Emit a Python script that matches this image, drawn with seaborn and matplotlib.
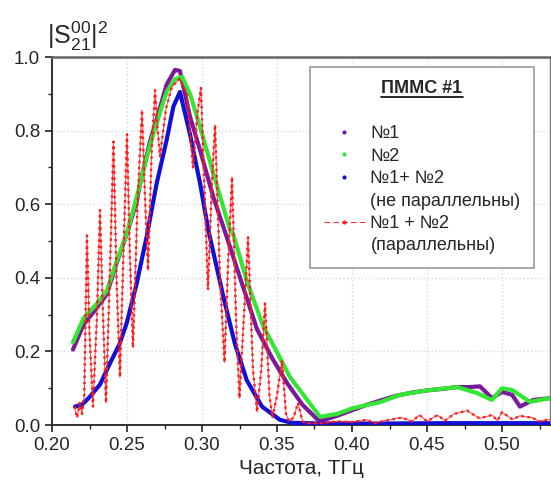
import numpy as np
import pandas as pd
import matplotlib
matplotlib.use("Agg")
import matplotlib.pyplot as plt
from matplotlib.lines import Line2D
from matplotlib.ticker import MultipleLocator
import seaborn as sns

# ---------------- data ----------------
x_n1 = [0.214, 0.2209, 0.2298, 0.2365, 0.2431, 0.2498, 0.2565, 0.2587, 0.2653, 0.272, 0.2764,
        0.282, 0.2853, 0.292, 0.2987, 0.3075, 0.3164, 0.327, 0.3367, 0.347, 0.3567, 0.367,
        0.3767, 0.38, 0.39, 0.40, 0.41, 0.42, 0.43, 0.44, 0.45, 0.46, 0.47, 0.478, 0.4853,
        0.4933, 0.50, 0.5067, 0.512, 0.5207, 0.532]
y_n1 = [0.205, 0.272, 0.318, 0.355, 0.44, 0.518, 0.608, 0.655, 0.77, 0.862, 0.925,
        0.965, 0.962, 0.838, 0.747, 0.62, 0.512, 0.38, 0.26, 0.18, 0.114, 0.055,
        0.016, 0.012, 0.025, 0.04, 0.055, 0.068, 0.08, 0.088, 0.094, 0.098, 0.103, 0.103, 0.105,
        0.073, 0.09, 0.082, 0.05, 0.068, 0.073]

x_n2 = [0.214, 0.221, 0.23, 0.2365, 0.2431, 0.2498, 0.2565, 0.2653, 0.272, 0.2764, 0.282,
        0.2867, 0.292, 0.2987, 0.3075, 0.3187, 0.3207, 0.33, 0.3407, 0.3587, 0.3787, 0.39,
        0.4007, 0.4187, 0.432, 0.45, 0.47, 0.4833, 0.4933, 0.50, 0.5067, 0.5187, 0.532]
y_n2 = [0.225, 0.29, 0.33, 0.365, 0.445, 0.52, 0.62, 0.76, 0.85, 0.905, 0.94,
        0.946, 0.9, 0.81, 0.685, 0.53, 0.52, 0.39, 0.27, 0.13, 0.022, 0.03,
        0.046, 0.062, 0.082, 0.094, 0.103, 0.087, 0.068, 0.10, 0.095, 0.063, 0.073]

x_np = [0.2153, 0.22, 0.2253, 0.232, 0.2387, 0.245, 0.2498, 0.2565, 0.2631, 0.2698, 0.2764,
        0.2809, 0.2853, 0.292, 0.2987, 0.3042, 0.3142, 0.322, 0.3298, 0.34, 0.352, 0.36,
        0.38, 0.42, 0.46, 0.50, 0.532]
y_np = [0.05, 0.055, 0.077, 0.11, 0.168, 0.22, 0.277, 0.385, 0.512, 0.657, 0.774,
        0.865, 0.905, 0.79, 0.657, 0.53, 0.349, 0.22, 0.122, 0.05, 0.014, 0.006,
        0.004, 0.004, 0.005, 0.005, 0.005]

x_par = [0.2150, 0.2167, 0.2185, 0.2200, 0.2215, 0.2233, 0.2250, 0.2273, 0.2300, 0.2320,
         0.2340, 0.2360, 0.2385, 0.2410, 0.2430, 0.2453, 0.2475, 0.2500, 0.2520, 0.2540,
         0.2570, 0.2600, 0.2620, 0.2640, 0.2665, 0.2687, 0.2705, 0.2720, 0.2760, 0.2800,
         0.2850, 0.2900, 0.2940, 0.2970, 0.2993, 0.3020, 0.3040, 0.3065, 0.3087, 0.3120,
         0.3150, 0.3175, 0.3200, 0.3230, 0.3250, 0.3280, 0.3307, 0.3340, 0.3367, 0.3395,
         0.3420, 0.3450, 0.3470, 0.3500, 0.3533, 0.3560, 0.3580, 0.3610, 0.3640, 0.3670,
         0.3700, 0.380, 0.390, 0.400, 0.410, 0.415, 0.420, 0.433, 0.440, 0.445, 0.450,
         0.457, 0.462, 0.468, 0.4767, 0.485, 0.4933, 0.497, 0.500, 0.507, 0.512, 0.520,
         0.525, 0.532]
y_par = [0.05, 0.02, 0.06, 0.03, 0.08, 0.515, 0.25, 0.05, 0.30, 0.584,
         0.30, 0.06, 0.40, 0.77, 0.40, 0.13, 0.45, 0.79, 0.45, 0.21,
         0.60, 0.856, 0.62, 0.42, 0.75, 0.91, 0.80, 0.73, 0.86, 0.92,
         0.94, 0.90, 0.70, 0.85, 0.916, 0.60, 0.367, 0.65, 0.815, 0.40,
         0.17, 0.45, 0.674, 0.25, 0.073, 0.30, 0.51, 0.15, 0.035, 0.15,
         0.33, 0.08, 0.02, 0.08, 0.176, 0.03, 0.01, 0.02, 0.06, 0.01,
         0.005, 0.005, 0.01, 0.008, 0.014, 0.005, 0.01, 0.02, 0.01, 0.027, 0.01,
         0.027, 0.012, 0.03, 0.039, 0.018, 0.027, 0.012, 0.035, 0.015, 0.025, 0.02,
         0.01, 0.015]

series_labels = ["№1", "№2", "№1+ №2", "№1 + №2"]
x_ticks = [0.20, 0.25, 0.30, 0.35, 0.40, 0.45, 0.50]
y_ticks = [0.0, 0.2, 0.4, 0.6, 0.8, 1.0]

# ---------------- style ----------------
sns.set_theme(style="ticks")
plt.rcParams["font.family"] = ["Liberation Sans", "DejaVu Sans"]
plt.rcParams["mathtext.fontset"] = "custom"
plt.rcParams["mathtext.rm"] = "Liberation Sans"
plt.rcParams["mathtext.it"] = "Liberation Sans"

fig = plt.figure(figsize=(5.51, 4.91), dpi=100)
ax = fig.add_axes([52 / 551, 1 - 425 / 491, 498 / 551, 368 / 491])

c_purple = "#7a1a9a"
c_green = "#33e633"
c_blue = "#1010d8"
c_red = "#ff1a1a"

df1 = pd.DataFrame({"x": x_n1, "y": y_n1})
df2 = pd.DataFrame({"x": x_n2, "y": y_n2})
df3 = pd.DataFrame({"x": x_np, "y": y_np})
df4 = pd.DataFrame({"x": x_par, "y": y_par})

sns.lineplot(data=df1, x="x", y="y", ax=ax, color=c_purple, lw=3.0, sort=False, zorder=3)
sns.lineplot(data=df2, x="x", y="y", ax=ax, color=c_green, lw=3.0, sort=False, zorder=4)
sns.lineplot(data=df3, x="x", y="y", ax=ax, color=c_blue, lw=3.0, sort=False, zorder=5)
sns.lineplot(data=df4, x="x", y="y", ax=ax, color=c_red, lw=0.8, alpha=0.75, sort=False, zorder=6)
sns.lineplot(data=df4, x="x", y="y", ax=ax, color=c_red, lw=1.7, sort=False, zorder=6,
             linestyle=(0, (1, 1.6)))

ax.set_xlim(0.20, 0.532)
ax.set_ylim(0.0, 1.0)
ax.set_xticks(x_ticks)
ax.set_xticklabels([f"{v:.2f}" for v in x_ticks])
ax.set_yticks(y_ticks)
ax.set_yticklabels([f"{v:.1f}" for v in y_ticks])
ax.xaxis.set_minor_locator(MultipleLocator(0.025))
ax.yaxis.set_minor_locator(MultipleLocator(0.1))
ax.tick_params(which="major", direction="out", length=5, width=1.2, labelsize=13.5, color="#222")
ax.tick_params(which="minor", direction="out", length=3, width=1.0, color="#222")
ax.grid(True, which="major", color="#d5d9e6", linestyle=":", linewidth=1.0)
ax.set_axisbelow(True)

for s in ["left", "bottom"]:
    ax.spines[s].set_color("#222")
    ax.spines[s].set_linewidth(1.3)
ax.spines["top"].set_visible(True)
ax.spines["right"].set_visible(True)
ax.spines["top"].set_color("#666")
ax.spines["top"].set_linewidth(1.8)
ax.spines["right"].set_color("#777")
ax.spines["right"].set_linewidth(1.0)

ax.set_xlabel("Частота, ТГц", fontsize=15, labelpad=4)
ax.set_ylabel("")
fig.text(47 / 551, 1 - 44 / 491, r"$|\mathrm{S}^{00}_{21}|^2$", fontsize=18, ha="left", va="baseline")

# ---------------- legend ----------------
blank = Line2D([], [], linestyle="none", marker=None)
handles = [
    blank,
    Line2D([], [], linestyle="none", marker=".", color=c_purple, markersize=4),
    Line2D([], [], linestyle="none", marker=".", color=c_green, markersize=4),
    Line2D([], [], linestyle="none", marker=".", color=c_blue, markersize=4),
    blank,
    Line2D([], [], linestyle=(0, (5, 3)), lw=0.8, marker=".", color=c_red, markersize=4,
           alpha=0.9),
    blank,
]
labels = ["", series_labels[0], series_labels[1], series_labels[2], "(не параллельны)",
          series_labels[3], "(параллельны)"]
leg = ax.legend(handles, labels, loc="upper left", bbox_to_anchor=(0.518, 0.973),
                borderaxespad=0, fontsize=13, title="ПММС #1",
                title_fontproperties={"weight": "bold", "size": 13},
                frameon=True, fancybox=False, edgecolor="#999", framealpha=1,
                labelspacing=0.3, handlelength=2.3, handletextpad=0.3, borderpad=0.75,
                markerscale=1.0)
leg.get_frame().set_linewidth(1.2)
leg.set_zorder(10)

fig.canvas.draw()
tb = leg.get_title().get_window_extent()
W, H = fig.bbox.width, fig.bbox.height
fig.add_artist(Line2D([tb.x0 / W, tb.x1 / W], [(tb.y0 + 0.5) / H, (tb.y0 + 0.5) / H],
                      transform=fig.transFigure, color="black", lw=1.2, zorder=11))

fig.savefig("out.png", dpi=100)
